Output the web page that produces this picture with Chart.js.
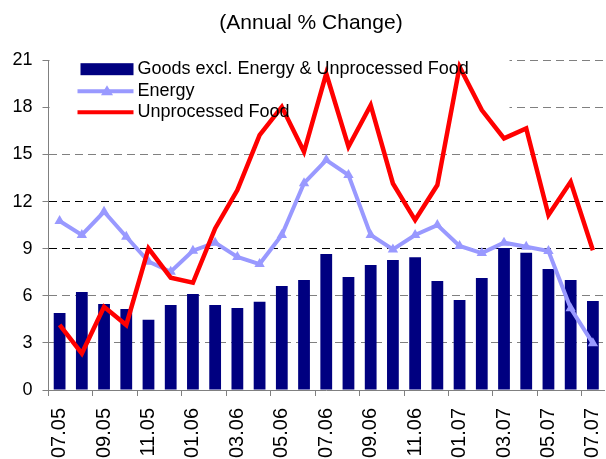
<!DOCTYPE html>
<html>
<head>
<meta charset="utf-8">
<script src="https://cdn.jsdelivr.net/npm/chart.js@4/dist/chart.umd.min.js"></script>
<style>
  html, body { margin: 0; padding: 0; background: #fff; overflow: hidden; }
  #wrap { width: 610px; height: 459px; }
</style>
</head>
<body>
<div id="wrap"><canvas id="chart"></canvas></div>
<script>
var months = ['07.05', '08.05', '09.05', '10.05', '11.05', '12.05', '01.06', '02.06', '03.06',
    '04.06', '05.06', '06.06', '07.06', '08.06', '09.06', '10.06', '11.06', '12.06',
    '01.07', '02.07', '03.07', '04.07', '05.07', '06.07', '07.07'];
var goods = [4.9, 6.24, 5.47, 5.16, 4.48, 5.41, 6.11, 5.41, 5.22, 5.62, 6.62, 7.0, 8.66,
    7.19, 7.96, 8.27, 8.46, 6.94, 5.73, 7.13, 9.04, 8.74, 7.7, 7.0, 5.67];
var energy = [10.76, 9.87, 11.35, 9.76, 8.17, 7.53, 8.87, 9.38, 8.47, 8.02, 9.87, 13.17,
    14.64, 13.69, 9.87, 8.95, 9.87, 10.5, 9.17, 8.72, 9.38, 9.12, 8.85, 5.2, 2.97];
var food = [4.14, 2.33, 5.3, 4.14, 9.02, 7.15, 6.83, 10.29, 12.73, 16.23, 18.03, 15.17,
    20.15, 15.49, 18.14, 13.15, 10.82, 13.05, 20.58, 17.82, 16.02, 16.66, 11.14, 13.26, 8.9];
var yTicks = [0, 3, 6, 9, 12, 15, 18, 21];

var font = "'Liberation Sans', Arial, sans-serif";
var navy = '#000080';
var lilac = '#9999FF';
var red = '#FF0000';

// legend drawn inside the plot, on a white patch that hides the gridlines
var insideLegend = {
    id: 'insideLegend',
    beforeDatasetsDraw: function (chart) {
        var ctx = chart.ctx, a = chart.chartArea;
        ctx.save();
        ctx.fillStyle = '#fff';
        ctx.fillRect(a.left + 1, a.top - 6, 460, 70);
        ctx.restore();
    },
    afterDatasetsDraw: function (chart) {
        var ctx = chart.ctx, a = chart.chartArea;
        var x0 = a.left + 32, x1 = a.left + 85, tx = a.left + 89;
        var rows = [a.top + 9, a.top + 31, a.top + 52];
        var names = chart.data.datasets.map(function (d) { return d.label; });
        ctx.save();
        ctx.fillStyle = navy;
        ctx.fillRect(x0, rows[0] - 6, x1 - x0, 12);
        ctx.lineWidth = 4;
        ctx.strokeStyle = lilac;
        ctx.beginPath(); ctx.moveTo(x0 - 3, rows[1]); ctx.lineTo(x1, rows[1]); ctx.stroke();
        ctx.fillStyle = lilac;
        var cx = (x0 + x1) / 2;
        ctx.beginPath();
        ctx.moveTo(cx, rows[1] - 6); ctx.lineTo(cx + 6, rows[1] + 4); ctx.lineTo(cx - 6, rows[1] + 4);
        ctx.closePath(); ctx.fill();
        ctx.strokeStyle = red;
        ctx.beginPath(); ctx.moveTo(x0 - 3, rows[2]); ctx.lineTo(x1, rows[2]); ctx.stroke();
        ctx.fillStyle = '#000';
        ctx.font = '18px ' + font;
        ctx.textBaseline = 'middle';
        for (var i = 0; i < 3; i++) {
            ctx.fillText(names[i], tx, rows[i]);
        }
        ctx.restore();
    }
};

new Chart('chart', {
    type: 'bar',
    data: {
        labels: months,
        datasets: [{
            label: 'Goods excl. Energy & Unprocessed Food',
            data: goods,
            backgroundColor: navy,
            barPercentage: 0.53,
            categoryPercentage: 1,
            order: 3
        }, {
            label: 'Energy',
            type: 'line',
            data: energy,
            borderColor: lilac,
            backgroundColor: lilac,
            borderWidth: 4,
            pointStyle: 'triangle',
            pointRadius: 6,
            pointBorderWidth: 0,
            tension: 0,
            order: 2
        }, {
            label: 'Unprocessed Food',
            type: 'line',
            data: food,
            borderColor: red,
            backgroundColor: red,
            borderWidth: 4.5,
            pointRadius: 0,
            tension: 0,
            order: 1
        }]
    },
    options: {
        responsive: true,
        maintainAspectRatio: false,
        animation: false,
        layout: { padding: { left: 12, right: 0, top: 0, bottom: 0 } },
        plugins: {
            legend: { display: false },
            tooltip: { enabled: false },
            title: {
                display: true,
                text: '(Annual % Change)',
                color: '#000',
                font: { family: font, size: 21, weight: 'normal' },
                padding: { top: 11, bottom: 24 }
            }
        },
        scales: {
            x: {
                offset: true,
                afterFit: function (axis) {
                    axis.height = 69;
                    axis.paddingLeft = 0;
                    axis.paddingRight = 0;
                },
                grid: {
                    offset: true,
                    drawOnChartArea: false,
                    tickLength: 6,
                    color: function (c) { return c.index % 2 === 0 ? '#808080' : 'rgba(0,0,0,0)'; }
                },
                border: { color: '#808080', width: 1 },
                ticks: {
                    autoSkip: false,
                    minRotation: 90,
                    maxRotation: 90,
                    padding: 12,
                    color: '#000',
                    font: { family: font, size: 20 },
                    callback: function (v, i) { return i % 2 === 0 ? months[i] : ''; }
                }
            },
            y: {
                min: 0,
                max: 21,
                afterFit: function (axis) {
                    axis.width = 36.5;
                    axis.paddingTop = 0;
                    axis.paddingBottom = 0;
                },
                afterBuildTicks: function (axis) {
                    axis.ticks = yTicks.map(function (v) { return { value: v }; });
                },
                grid: {
                    tickLength: 6,
                    tickColor: '#808080',
                    tickBorderDash: [],
                    color: function (c) {
                        var v = c.tick ? c.tick.value : 0;
                        if (v === 0) return 'rgba(0,0,0,0)';
                        return (v === 9 || v === 12) ? '#000' : '#808080';
                    }
                },
                border: { color: '#808080', width: 1, dash: [8, 5] },
                ticks: {
                    padding: 10,
                    color: '#000',
                    font: { family: font, size: 18 }
                }
            }
        }
    },
    plugins: [insideLegend]
});
</script>
</body>
</html>
